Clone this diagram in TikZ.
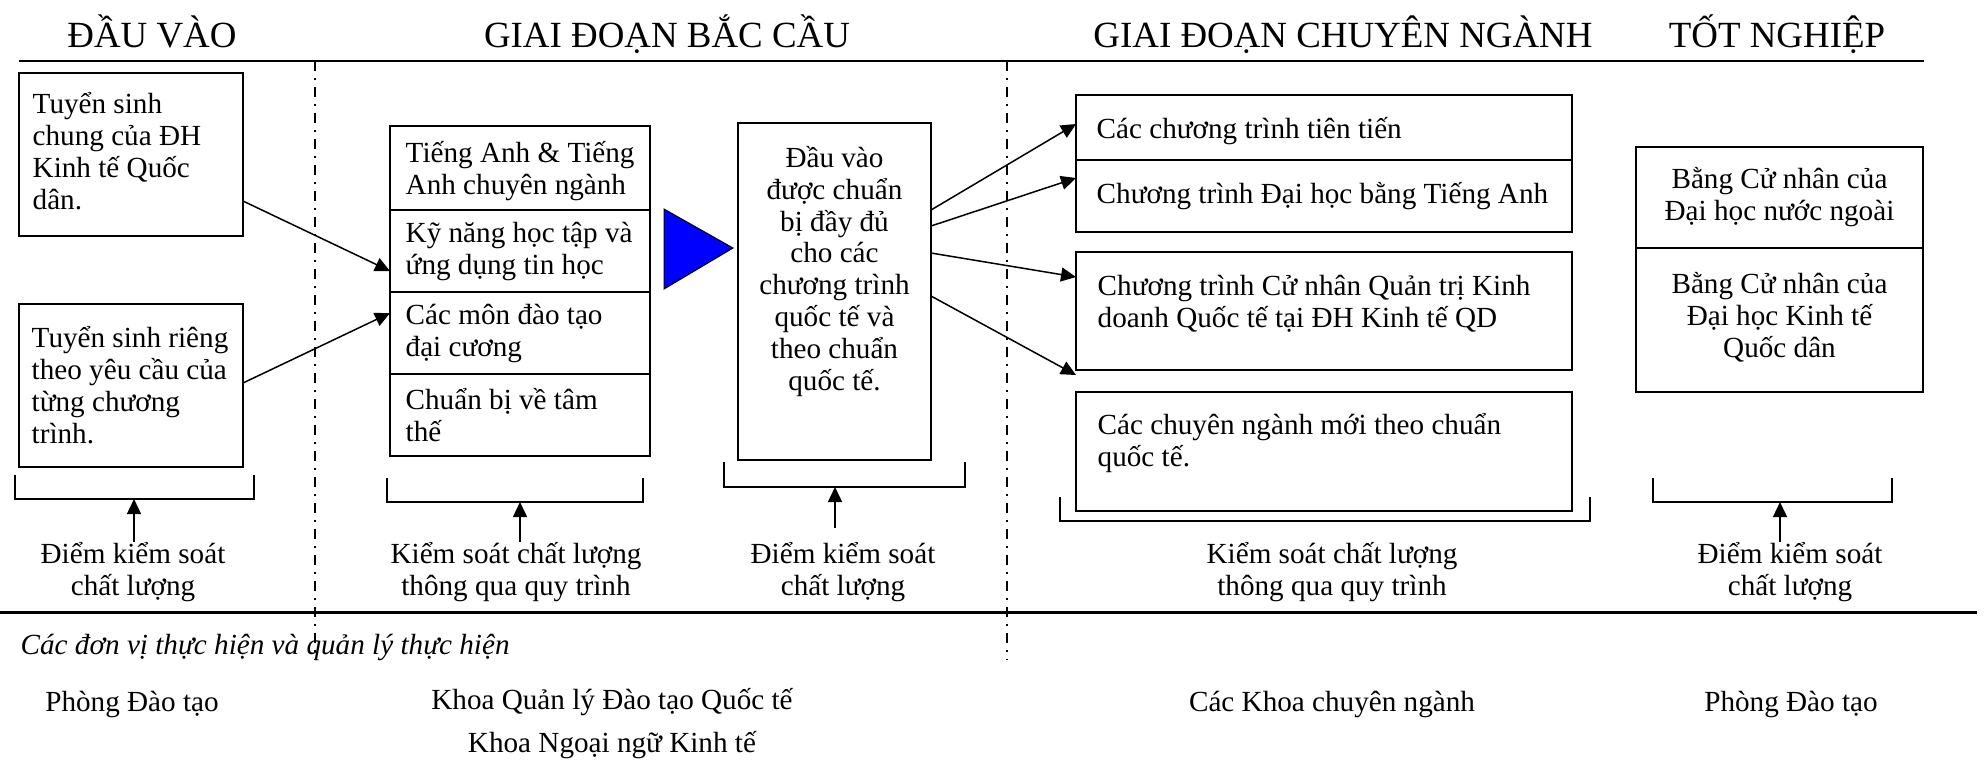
\documentclass[tikz,border=0pt]{standalone}
\usepackage{fontspec}
\setmainfont{Liberation Serif}
\usetikzlibrary{arrows.meta,positioning}

\tikzset{
  khung/.style={draw, line width=0.2mm, inner sep=0pt, outer sep=0pt, anchor=north west},
  chu/.style={inner sep=0pt, font=\fontsize{8.3}{9.1}\selectfont},
  tieude/.style={inner sep=0pt, anchor=base, font=\fontsize{10.5}{12}\selectfont},
  muiten/.style={line width=0.15mm, -{Triangle[length=1.5mm,width=1.4mm]}},
  ngoac/.style={line width=0.2mm},
  chamgach/.style={line width=0.15mm, dash pattern=on 1mm off 0.7mm on 0.2mm off 0.7mm},
}

\begin{document}
\begin{tikzpicture}[x=0.1mm,y=-0.1mm]
\useasboundingbox (0,0) rectangle (1984,760);

% tieu de cac giai doan
\node[tieude] (dauvaotd) at (152,47) {ĐẦU VÀO};
\node[tieude] (bacctd) at (667,47) {GIAI ĐOẠN BẮC CẦU};
\node[tieude] (chuyentd) at (1343,47) {GIAI ĐOẠN CHUYÊN NGÀNH};
\node[tieude] (totntd) at (1777,47) {TỐT NGHIỆP};
\draw[line width=0.25mm] (19,61) -- (1924,61);
\draw[line width=0.3mm] (0,612) -- (1977,612);
\draw[chamgach] (315,61) -- (315,660);
\draw[chamgach] (1007,61) -- (1007,660);

% dau vao
\node[khung, minimum width=22.4mm, minimum height=16.3mm] (tschung) at (19,73) {};
\node[chu, anchor=west, align=left] (tschungchu) at ([xshift=1.3mm,yshift=0.3mm]tschung.west) {Tuyển sinh\\chung của ĐH\\Kinh tế Quốc\\dân.};
\node[khung, minimum width=22.4mm, minimum height=16.3mm] (tsrieng) at (19,304) {};
\node[chu, anchor=west, align=left] (tsriengchu) at ([xshift=1.2mm]tsrieng.west) {Tuyển sinh riêng\\theo yêu cầu của\\từng chương\\trình.};

% giai doan bac cau
\node[khung, minimum width=26mm, minimum height=8.4mm] (tienganh) at (390,126) {};
\node[khung, minimum width=26mm, minimum height=8.2mm, below=0pt of tienganh] (kynang) {};
\node[khung, minimum width=26mm, minimum height=8.2mm, below=0pt of kynang] (daicuong) {};
\node[khung, minimum width=26mm, minimum height=8.2mm, below=0pt of daicuong] (tamthe) {};
\node[chu, anchor=west, align=left] (tienganhchu) at ([xshift=1.5mm,yshift=-0.3mm]tienganh.west) {Tiếng Anh \& Tiếng\\Anh chuyên ngành};
\node[chu, anchor=west, align=left] (kynangchu) at ([xshift=1.5mm]kynang.west) {Kỹ năng học tập và\\ứng dụng tin học};
\node[chu, anchor=west, align=left] (daicuongchu) at ([xshift=1.5mm]daicuong.west) {Các môn đào tạo\\đại cương};
\node[chu, anchor=west, align=left] (tamthechu) at ([xshift=1.5mm]tamthe.west) {Chuẩn bị về tâm\\thế};

\filldraw[fill=blue, draw=black, line width=0.1mm] (664,209) -- (733,248) -- (664,289) -- cycle;

\node[khung, minimum width=19.3mm, minimum height=33.7mm] (dauvao) at (738,123) {};
\node[chu, align=center] (dauvaochu) at ([yshift=2mm]dauvao.center) {Đầu vào\\được chuẩn\\bị đầy đủ\\cho các\\chương trình\\quốc tế và\\theo chuẩn\\quốc tế.};

% giai doan chuyen nganh
\node[khung, minimum width=49.6mm, minimum height=6.5mm] (tientien) at (1076,95) {};
\node[khung, minimum width=49.6mm, minimum height=7.2mm, below=0pt of tientien] (dhta) {};
\node[khung, minimum width=49.6mm, minimum height=11.8mm] (qtkd) at (1076,252) {};
\node[khung, minimum width=49.6mm, minimum height=11.9mm] (cnmoi) at (1076,392) {};
\node[chu, anchor=west] (tientienchu) at ([xshift=2mm,yshift=-0.4mm]tientien.west) {Các chương trình tiên tiến};
\node[chu, anchor=west] (dhtachu) at ([xshift=2mm]dhta.west) {Chương trình Đại học bằng Tiếng Anh};
\node[chu, anchor=west, align=left] (qtkdchu) at ([xshift=2.1mm,yshift=0.75mm]qtkd.west) {Chương trình Cử nhân Quản trị Kinh\\doanh Quốc tế tại ĐH Kinh tế QD};
\node[chu, anchor=west, align=left] (cnmoichu) at ([xshift=2.1mm,yshift=0.8mm]cnmoi.west) {Các chuyên ngành mới theo chuẩn\\quốc tế.};

% tot nghiep
\node[khung, minimum width=28.7mm, minimum height=10.1mm] (bangnn) at (1636,147) {};
\node[khung, minimum width=28.7mm, minimum height=14.4mm, below=0pt of bangnn] (bangktqd) {};
\node[chu, align=center] (bangnnchu) at (bangnn.center) {Bằng Cử nhân của\\Đại học nước ngoài};
\node[chu, align=center] (bangktqdchu) at ([yshift=0.25mm]bangktqd.center) {Bằng Cử nhân của\\Đại học Kinh tế\\Quốc dân};

% mui ten
\draw[muiten] ([yshift=-4.65mm]tschung.east) -- ([yshift=-2mm]kynang.west);
\draw[muiten] ([yshift=0.25mm]tsrieng.east) -- ([yshift=2mm]daicuong.west);
\draw[muiten] ([yshift=8.15mm]dauvao.east) -- ([yshift=0.35mm]tientien.west);
\draw[muiten] ([yshift=6.55mm]dauvao.east) -- ([yshift=1.8mm]dhta.west);
\draw[muiten] ([yshift=3.85mm]dauvao.east) -- ([yshift=3.4mm]qtkd.west);
\draw[muiten] ([yshift=-0.45mm]dauvao.east) -- ([yshift=-0.5mm]qtkd.south west);

% kiem soat chat luong
\draw[ngoac] (15,475) |- (254,499) -- (254,475);
\coordinate (k1) at (134,499);
\node[chu, align=center] (kiemsoat1) at (133,572) {Điểm kiểm soát\\chất lượng};
\draw[muiten] (kiemsoat1.north -| k1) -- (k1);

\draw[ngoac] (387,478) |- (643,502) -- (643,478);
\coordinate (k2) at (520,502);
\node[chu, align=center] (kiemsoat2) at (516,572) {Kiểm soát chất lượng\\thông qua quy trình};
\draw[muiten] (kiemsoat2.north -| k2) -- (k2);

\draw[ngoac] (724,462) |- (965,487) -- (965,462);
\coordinate (k3) at (835,487);
\node[chu, align=center] (kiemsoat3) at (843,572) {Điểm kiểm soát\\chất lượng};
\draw[muiten, shorten <=1.4mm] (kiemsoat3.north -| k3) -- (k3);

\draw[ngoac] (1060,497) |- (1590,521) -- (1590,497);
\node[chu, align=center] (kiemsoat4) at (1332,572) {Kiểm soát chất lượng\\thông qua quy trình};

\draw[ngoac] (1653,478) |- (1892,502) -- (1892,478);
\coordinate (k5) at (1780,502);
\node[chu, align=center] (kiemsoat5) at (1790,572) {Điểm kiểm soát\\chất lượng};
\draw[muiten] (kiemsoat5.north -| k5) -- (k5);

% don vi thuc hien
\node[chu, anchor=west, font=\fontsize{8.3}{9.1}\selectfont\itshape] (donvi) at (20,647) {Các đơn vị thực hiện và quản lý thực hiện};
\node[chu] (phongdt1) at (132,704) {Phòng Đào tạo};
\node[chu, align=center] (khoaqt) at (612,724) {Khoa Quản lý Đào tạo Quốc tế\\[1.1mm]Khoa Ngoại ngữ Kinh tế};
\node[chu] (cackhoa) at (1332,704) {Các Khoa chuyên ngành};
\node[chu] (phongdt2) at (1791,704) {Phòng Đào tạo};
\end{tikzpicture}
\end{document}
